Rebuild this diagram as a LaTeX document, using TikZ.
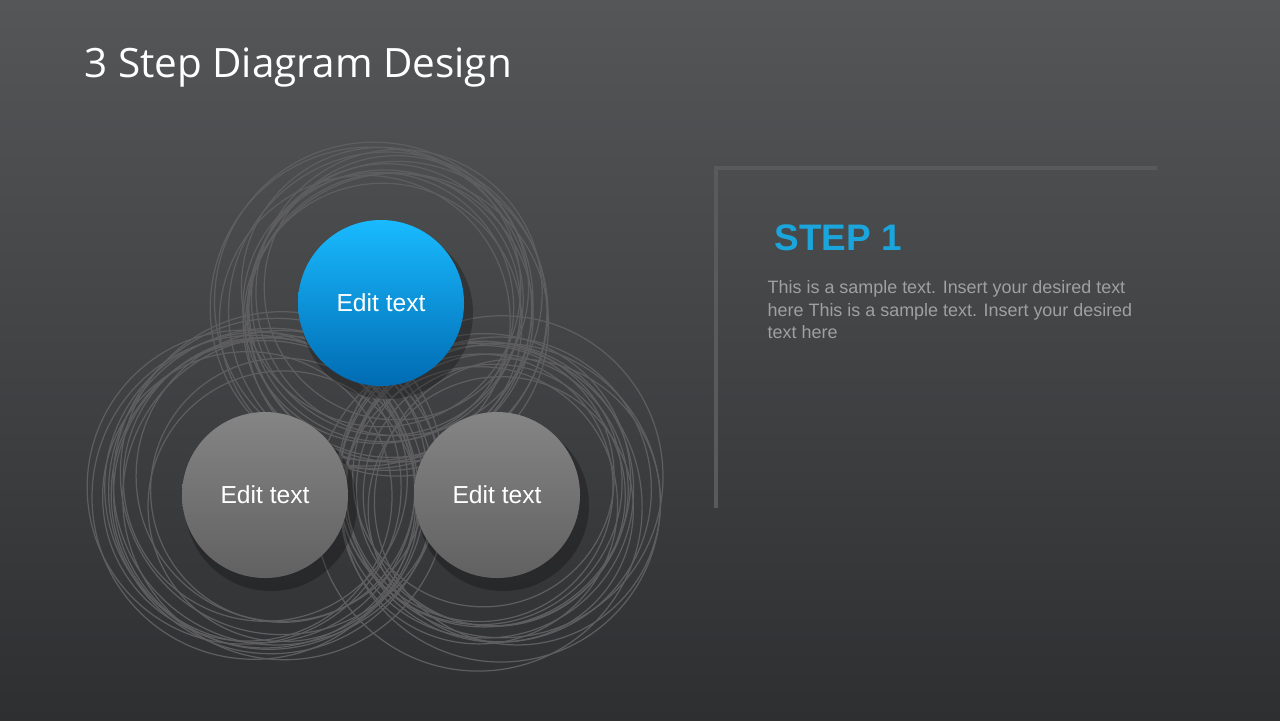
\documentclass[tikz,border=0pt]{standalone}
\usepackage{fontspec}
\setmainfont{Liberation Sans}
\newfontfamily\titlefont{Open Sans}
\usetikzlibrary{positioning}
\definecolor{bgtop}{HTML}{555658}
\definecolor{bgbot}{HTML}{2E2F31}
\definecolor{stepblue}{HTML}{1AA6DC}
\definecolor{ringgray}{HTML}{5E5E60}
\definecolor{panelgray}{HTML}{5A5A5C}
\definecolor{bodygray}{HTML}{A0A0A2}
\begin{document}
\begin{tikzpicture}[x=0.01cm,y=-0.01cm,
    ball/.style={circle,minimum size=166*0.01cm,inner sep=0pt,text=white,font=\fontsize{7}{8}\selectfont},
    blueball/.style={ball,top color=cyan!70!blue!90!white,bottom color=cyan!60!blue!70!black},
    grayball/.style={ball,top color=black!48,bottom color=black!62},
    ring/.style={draw=ringgray,line width=0.35pt}]
    % background
    \useasboundingbox (0,0) rectangle (1280,720);
    \shade[top color=bgtop,bottom color=bgbot] (0,0) rectangle (1280,720);
    \node[anchor=west,text=white,font=\titlefont\fontsize{11.5}{13}\selectfont] (title) at (72,68) {3 Step Diagram Design};
    % sketchy rings
    \pgfmathsetseed{7}
    \foreach \cx/\cy in {381/303,265/495,497/495}{
      \foreach \k in {1,...,14}{
        \pgfmathsetmacro\dx{rand*22}
        \pgfmathsetmacro\dy{rand*22}
        \pgfmathsetmacro\rr{130+rnd*35}
        \draw[ring] (\cx+\dx,\cy+\dy) circle[radius=\rr];
      }
    }
    % shadows
    \foreach \cx/\cy in {381/303,265/495,497/495}
      \fill[black,opacity=0.25] (\cx+6,\cy+10) circle[radius=86];
    % steps
    \node[blueball] (s1) at (381,303) {Edit text};
    \node[grayball] (s2) at (265,495) {Edit text};
    \node[grayball] (s3) at (497,495) {Edit text};
    % panel
    \coordinate (pc) at (716,168);
    \draw[panelgray,line width=1.2pt] (716,508) -- (pc) -- (1157,168);
    \node[anchor=west,text=stepblue,font=\bfseries\fontsize{10.5}{12}\selectfont] (step) at (762,238) {STEP 1};
    \node[anchor=north west,text=bodygray,align=left,inner sep=0pt,
          font=\fontsize{5.1}{6.4}\selectfont] (body) at (767,280)
      {This is a sample text. Insert your desired text\\here This is a sample text. Insert your desired\\text here};
\end{tikzpicture}
\end{document}
